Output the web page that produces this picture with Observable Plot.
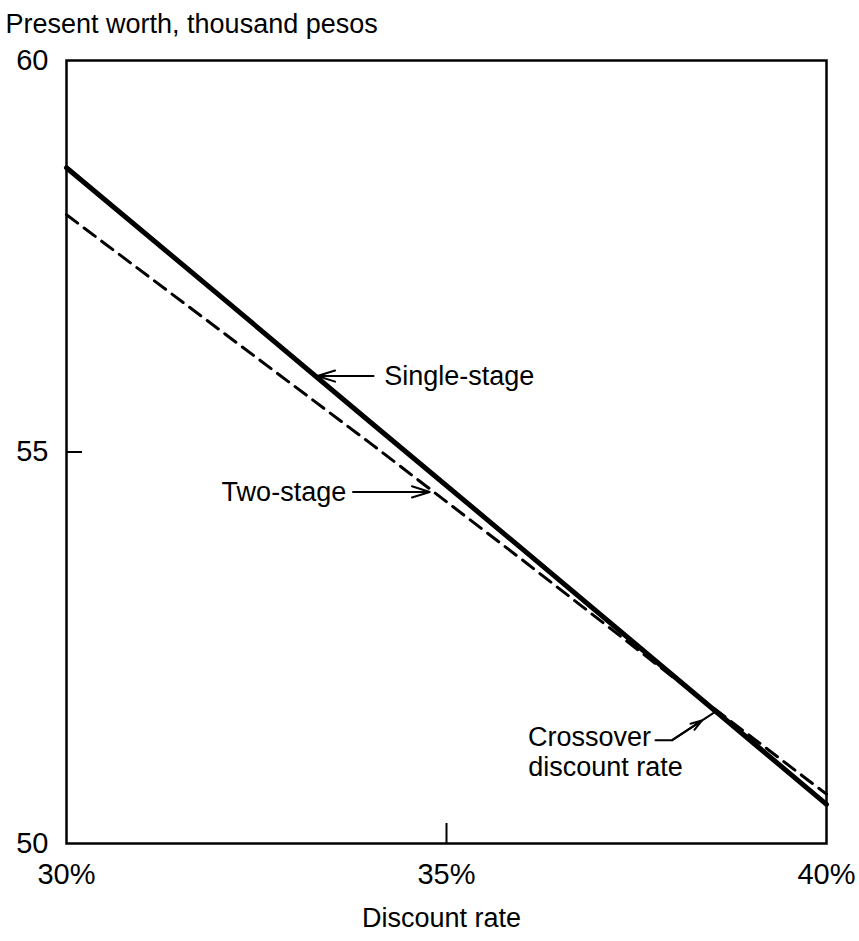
<!DOCTYPE html>
<html><head><meta charset="utf-8">
<script src="https://cdn.jsdelivr.net/npm/d3@7"></script>
<script src="https://cdn.jsdelivr.net/npm/@observablehq/plot@0.6"></script>
<style>
body{margin:0;background:#fff}
#chart svg{font-family:"Liberation Sans",Arial,sans-serif}
</style>
</head><body><div id="chart"></div>
<script>
// Discount rate (%)
const rates = [30, 32, 34, 36, 38, 40];
// Present worth, thousand pesos
const singleStage = [58.63, 57.01, 55.38, 53.76, 52.13, 50.50];
const twoStage    = [58.03, 56.57, 55.11, 53.62, 52.11, 50.63];
const yTicks = [50, 55, 60];
const xTicks = [30, 35, 40];
const yTitle = "Present worth, thousand pesos";
const xTitle = "Discount rate";

// annotation labels (data coordinates)
const labelText   = ["Single-stage", "Two-stage", "Crossover", "discount rate"];
const labelX      = [34.18, 33.68, 37.69, 38.11];
const labelY      = [55.97, 54.49, 51.35, 50.97];
const labelAnchor = ["start", "end", "end", "end"];
// leader arrows
const arrowX1 = [34.04, 33.77, 37.97];
const arrowY1 = [55.97, 54.49, 51.32];
const arrowX2 = [33.30, 34.78, 38.36];
const arrowY2 = [55.97, 54.49, 51.57];
// crossover leader polyline
const leaderX = [37.75, 37.97, 38.55];
const leaderY = [51.32, 51.32, 51.69];

const single = rates.map((r, i) => ({rate: r, pw: singleStage[i]}));
const two = rates.map((r, i) => ({rate: r, pw: twoStage[i]}));
const labels = labelText.map((t, i) => ({text: t, x: labelX[i], y: labelY[i], anchor: labelAnchor[i]}));
const arrows = arrowX1.map((x, i) => ({x1: x, y1: arrowY1[i], x2: arrowX2[i], y2: arrowY2[i]}));
const leader = leaderX.map((x, i) => ({x, y: leaderY[i]}));

const FS = 27;
const TFS = 29;

const chart = Plot.plot({
  width: 859,
  height: 941,
  marginLeft: 66,
  marginRight: 33,
  marginTop: 60,
  marginBottom: 98,
  style: {fontSize: FS + "px", color: "black", background: "white"},
  x: {domain: [30, 40]},
  y: {domain: [50, 60]},
  marks: [
    Plot.frame({stroke: "black", strokeWidth: 2.5}),
    Plot.axisY({ticks: yTicks, tickSize: 0, tickPadding: 18, label: null, fontSize: TFS}),
    Plot.axisY({ticks: [55], tickSize: -16, fill: "none", label: null, strokeWidth: 2}),
    Plot.axisX({ticks: xTicks, tickSize: 0, tickPadding: 20, tickFormat: d => d + "%", label: null, fontSize: TFS}),
    Plot.axisX({ticks: [35], tickSize: -20, fill: "none", label: null, strokeWidth: 2}),
    Plot.line(single, {x: "rate", y: "pw", stroke: "black", strokeWidth: 5}),
    Plot.line(two, {x: "rate", y: "pw", stroke: "black", strokeWidth: 3, strokeDasharray: "14,8"}),
    Plot.arrow(arrows, {x1: "x1", y1: "y1", x2: "x2", y2: "y2", stroke: "black", strokeWidth: 2, headLength: 14, headAngle: 35}),
    Plot.line(leader, {x: "x", y: "y", stroke: "black", strokeWidth: 2}),
    Plot.text(labels.filter(d => d.anchor === "start"), {x: "x", y: "y", text: "text", textAnchor: "start", lineAnchor: "middle", fontSize: FS, fill: "black"}),
    Plot.text(labels.filter(d => d.anchor === "end"), {x: "x", y: "y", text: "text", textAnchor: "end", lineAnchor: "middle", fontSize: FS, fill: "black"}),
    Plot.text([yTitle], {frameAnchor: "top-left", dx: -61, dy: -36, textAnchor: "start", lineAnchor: "middle", fontSize: FS, fill: "black"}),
    Plot.text([xTitle], {frameAnchor: "bottom", dx: -5, dy: 75, lineAnchor: "middle", fontSize: FS, fill: "black"})
  ]
});
document.getElementById("chart").append(chart);
</script>
</body></html>
